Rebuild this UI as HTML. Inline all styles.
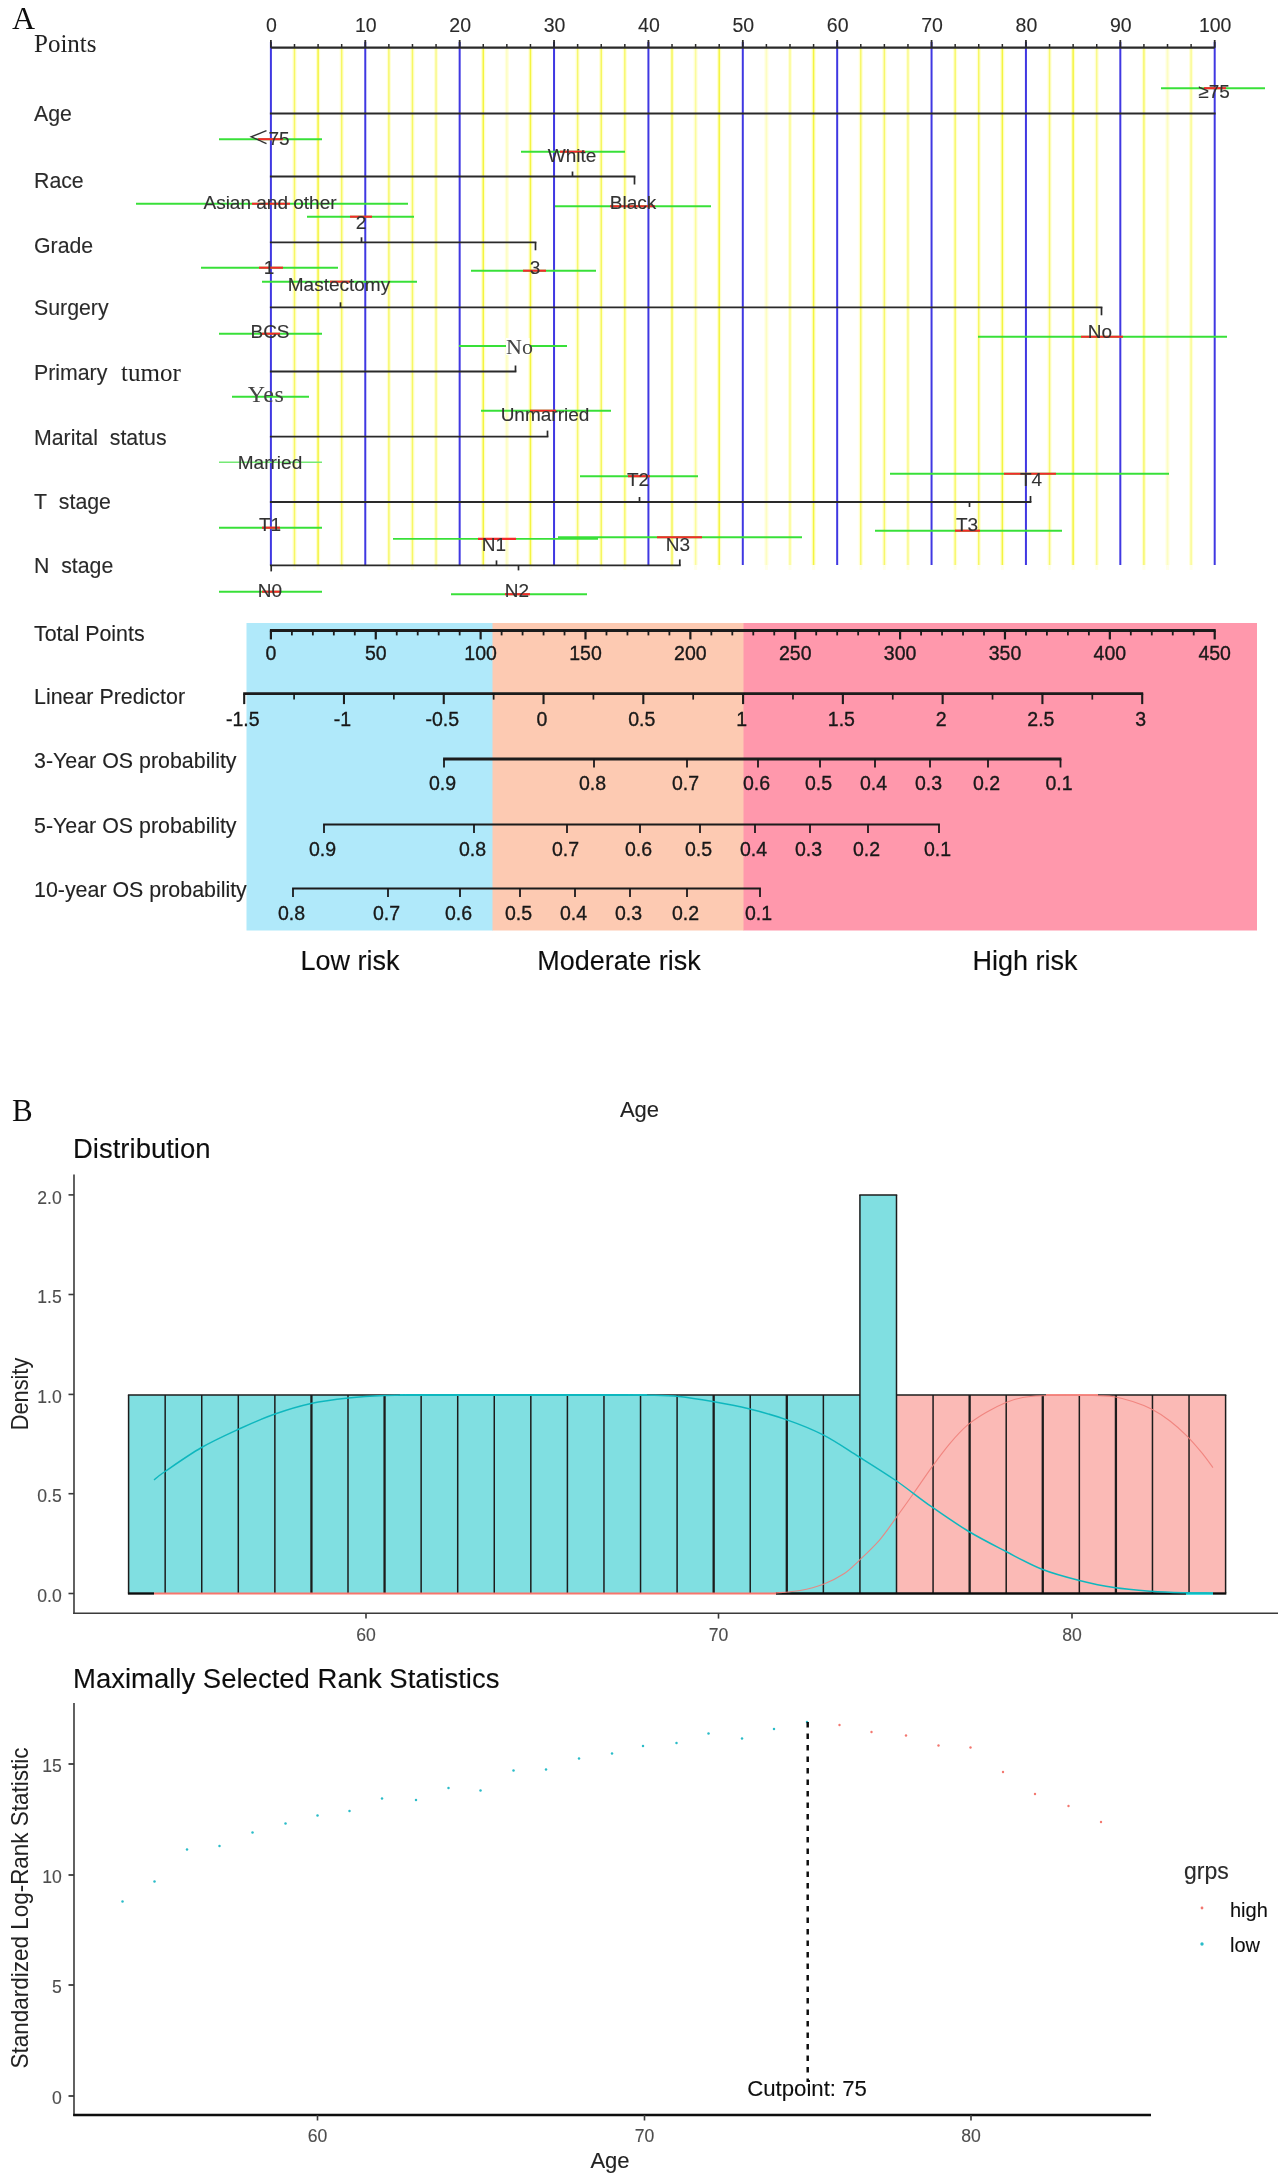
<!DOCTYPE html>
<html><head><meta charset="utf-8"><title>Figure</title>
<style>
html,body{margin:0;padding:0;background:#fff;}
body{width:1288px;height:2182px;overflow:hidden;font-family:"Liberation Sans",sans-serif;}
svg{display:block;}
</style></head><body>
<svg width="1288" height="2182" viewBox="0 0 1288 2182">
<defs><filter id="soft" x="0" y="0" width="100%" height="100%" filterUnits="userSpaceOnUse"><feGaussianBlur stdDeviation="0.45"/></filter></defs>
<rect x="0" y="0" width="1288" height="2182" fill="#ffffff"/>
<g filter="url(#soft)">
<line x1="294.495" y1="48" x2="294.495" y2="565" stroke="#ffffcc" stroke-width="4" stroke-opacity="0.89"/>
<line x1="294.495" y1="48" x2="294.495" y2="565" stroke="#f4f440" stroke-width="1.5" stroke-opacity="0.75"/>
<line x1="294.495" y1="565" x2="294.495" y2="570" stroke="#ffffdd" stroke-width="3" stroke-opacity="0.6"/>
<line x1="318.09" y1="48" x2="318.09" y2="565" stroke="#ffffcc" stroke-width="4" stroke-opacity="1.00"/>
<line x1="318.09" y1="48" x2="318.09" y2="565" stroke="#f4f440" stroke-width="1.5" stroke-opacity="1.00"/>
<line x1="318.09" y1="565" x2="318.09" y2="570" stroke="#ffffdd" stroke-width="3" stroke-opacity="0.6"/>
<line x1="341.685" y1="48" x2="341.685" y2="565" stroke="#ffffcc" stroke-width="4" stroke-opacity="0.89"/>
<line x1="341.685" y1="48" x2="341.685" y2="565" stroke="#f4f440" stroke-width="1.5" stroke-opacity="0.75"/>
<line x1="341.685" y1="565" x2="341.685" y2="570" stroke="#ffffdd" stroke-width="3" stroke-opacity="0.6"/>
<line x1="388.875" y1="48" x2="388.875" y2="565" stroke="#ffffcc" stroke-width="4" stroke-opacity="0.86"/>
<line x1="388.875" y1="48" x2="388.875" y2="565" stroke="#f4f440" stroke-width="1.5" stroke-opacity="0.70"/>
<line x1="388.875" y1="565" x2="388.875" y2="570" stroke="#ffffdd" stroke-width="3" stroke-opacity="0.6"/>
<line x1="412.47" y1="48" x2="412.47" y2="565" stroke="#ffffcc" stroke-width="4" stroke-opacity="0.89"/>
<line x1="412.47" y1="48" x2="412.47" y2="565" stroke="#f4f440" stroke-width="1.5" stroke-opacity="0.75"/>
<line x1="412.47" y1="565" x2="412.47" y2="570" stroke="#ffffdd" stroke-width="3" stroke-opacity="0.6"/>
<line x1="436.06499999999994" y1="48" x2="436.06499999999994" y2="565" stroke="#ffffcc" stroke-width="4" stroke-opacity="0.78"/>
<line x1="436.06499999999994" y1="48" x2="436.06499999999994" y2="565" stroke="#f4f440" stroke-width="1.5" stroke-opacity="0.50"/>
<line x1="436.06499999999994" y1="565" x2="436.06499999999994" y2="570" stroke="#ffffdd" stroke-width="3" stroke-opacity="0.6"/>
<line x1="483.255" y1="48" x2="483.255" y2="565" stroke="#ffffcc" stroke-width="4" stroke-opacity="1.00"/>
<line x1="483.255" y1="48" x2="483.255" y2="565" stroke="#f4f440" stroke-width="1.5" stroke-opacity="1.00"/>
<line x1="483.255" y1="565" x2="483.255" y2="570" stroke="#ffffdd" stroke-width="3" stroke-opacity="0.6"/>
<line x1="506.84999999999997" y1="48" x2="506.84999999999997" y2="565" stroke="#ffffcc" stroke-width="4" stroke-opacity="0.63"/>
<line x1="506.84999999999997" y1="48" x2="506.84999999999997" y2="565" stroke="#f4f440" stroke-width="1.5" stroke-opacity="0.18"/>
<line x1="506.84999999999997" y1="565" x2="506.84999999999997" y2="570" stroke="#ffffdd" stroke-width="3" stroke-opacity="0.6"/>
<line x1="530.4449999999999" y1="48" x2="530.4449999999999" y2="565" stroke="#ffffcc" stroke-width="4" stroke-opacity="1.00"/>
<line x1="530.4449999999999" y1="48" x2="530.4449999999999" y2="565" stroke="#f4f440" stroke-width="1.5" stroke-opacity="1.00"/>
<line x1="530.4449999999999" y1="565" x2="530.4449999999999" y2="570" stroke="#ffffdd" stroke-width="3" stroke-opacity="0.6"/>
<line x1="577.635" y1="48" x2="577.635" y2="565" stroke="#ffffcc" stroke-width="4" stroke-opacity="0.86"/>
<line x1="577.635" y1="48" x2="577.635" y2="565" stroke="#f4f440" stroke-width="1.5" stroke-opacity="0.70"/>
<line x1="577.635" y1="565" x2="577.635" y2="570" stroke="#ffffdd" stroke-width="3" stroke-opacity="0.6"/>
<line x1="601.23" y1="48" x2="601.23" y2="565" stroke="#ffffcc" stroke-width="4" stroke-opacity="0.91"/>
<line x1="601.23" y1="48" x2="601.23" y2="565" stroke="#f4f440" stroke-width="1.5" stroke-opacity="0.80"/>
<line x1="601.23" y1="565" x2="601.23" y2="570" stroke="#ffffdd" stroke-width="3" stroke-opacity="0.6"/>
<line x1="624.825" y1="48" x2="624.825" y2="565" stroke="#ffffcc" stroke-width="4" stroke-opacity="0.86"/>
<line x1="624.825" y1="48" x2="624.825" y2="565" stroke="#f4f440" stroke-width="1.5" stroke-opacity="0.70"/>
<line x1="624.825" y1="565" x2="624.825" y2="570" stroke="#ffffdd" stroke-width="3" stroke-opacity="0.6"/>
<line x1="672.015" y1="48" x2="672.015" y2="565" stroke="#ffffcc" stroke-width="4" stroke-opacity="0.91"/>
<line x1="672.015" y1="48" x2="672.015" y2="565" stroke="#f4f440" stroke-width="1.5" stroke-opacity="0.80"/>
<line x1="672.015" y1="565" x2="672.015" y2="570" stroke="#ffffdd" stroke-width="3" stroke-opacity="0.6"/>
<line x1="695.6099999999999" y1="48" x2="695.6099999999999" y2="565" stroke="#ffffcc" stroke-width="4" stroke-opacity="0.73"/>
<line x1="695.6099999999999" y1="48" x2="695.6099999999999" y2="565" stroke="#f4f440" stroke-width="1.5" stroke-opacity="0.40"/>
<line x1="695.6099999999999" y1="565" x2="695.6099999999999" y2="570" stroke="#ffffdd" stroke-width="3" stroke-opacity="0.6"/>
<line x1="719.2049999999999" y1="48" x2="719.2049999999999" y2="565" stroke="#ffffcc" stroke-width="4" stroke-opacity="1.00"/>
<line x1="719.2049999999999" y1="48" x2="719.2049999999999" y2="565" stroke="#f4f440" stroke-width="1.5" stroke-opacity="1.00"/>
<line x1="719.2049999999999" y1="565" x2="719.2049999999999" y2="570" stroke="#ffffdd" stroke-width="3" stroke-opacity="0.6"/>
<line x1="766.395" y1="48" x2="766.395" y2="565" stroke="#ffffcc" stroke-width="4" stroke-opacity="0.63"/>
<line x1="766.395" y1="48" x2="766.395" y2="565" stroke="#f4f440" stroke-width="1.5" stroke-opacity="0.18"/>
<line x1="766.395" y1="565" x2="766.395" y2="570" stroke="#ffffdd" stroke-width="3" stroke-opacity="0.6"/>
<line x1="789.99" y1="48" x2="789.99" y2="565" stroke="#ffffcc" stroke-width="4" stroke-opacity="0.75"/>
<line x1="789.99" y1="48" x2="789.99" y2="565" stroke="#f4f440" stroke-width="1.5" stroke-opacity="0.45"/>
<line x1="789.99" y1="565" x2="789.99" y2="570" stroke="#ffffdd" stroke-width="3" stroke-opacity="0.6"/>
<line x1="813.585" y1="48" x2="813.585" y2="565" stroke="#ffffcc" stroke-width="4" stroke-opacity="1.00"/>
<line x1="813.585" y1="48" x2="813.585" y2="565" stroke="#f4f440" stroke-width="1.5" stroke-opacity="1.00"/>
<line x1="813.585" y1="565" x2="813.585" y2="570" stroke="#ffffdd" stroke-width="3" stroke-opacity="0.6"/>
<line x1="860.7750000000001" y1="48" x2="860.7750000000001" y2="565" stroke="#ffffcc" stroke-width="4" stroke-opacity="0.86"/>
<line x1="860.7750000000001" y1="48" x2="860.7750000000001" y2="565" stroke="#f4f440" stroke-width="1.5" stroke-opacity="0.70"/>
<line x1="860.7750000000001" y1="565" x2="860.7750000000001" y2="570" stroke="#ffffdd" stroke-width="3" stroke-opacity="0.6"/>
<line x1="884.37" y1="48" x2="884.37" y2="565" stroke="#ffffcc" stroke-width="4" stroke-opacity="0.86"/>
<line x1="884.37" y1="48" x2="884.37" y2="565" stroke="#f4f440" stroke-width="1.5" stroke-opacity="0.70"/>
<line x1="884.37" y1="565" x2="884.37" y2="570" stroke="#ffffdd" stroke-width="3" stroke-opacity="0.6"/>
<line x1="907.965" y1="48" x2="907.965" y2="565" stroke="#ffffcc" stroke-width="4" stroke-opacity="0.78"/>
<line x1="907.965" y1="48" x2="907.965" y2="565" stroke="#f4f440" stroke-width="1.5" stroke-opacity="0.50"/>
<line x1="907.965" y1="565" x2="907.965" y2="570" stroke="#ffffdd" stroke-width="3" stroke-opacity="0.6"/>
<line x1="955.155" y1="48" x2="955.155" y2="565" stroke="#ffffcc" stroke-width="4" stroke-opacity="0.86"/>
<line x1="955.155" y1="48" x2="955.155" y2="565" stroke="#f4f440" stroke-width="1.5" stroke-opacity="0.70"/>
<line x1="955.155" y1="565" x2="955.155" y2="570" stroke="#ffffdd" stroke-width="3" stroke-opacity="0.6"/>
<line x1="978.75" y1="48" x2="978.75" y2="565" stroke="#ffffcc" stroke-width="4" stroke-opacity="0.89"/>
<line x1="978.75" y1="48" x2="978.75" y2="565" stroke="#f4f440" stroke-width="1.5" stroke-opacity="0.75"/>
<line x1="978.75" y1="565" x2="978.75" y2="570" stroke="#ffffdd" stroke-width="3" stroke-opacity="0.6"/>
<line x1="1002.345" y1="48" x2="1002.345" y2="565" stroke="#ffffcc" stroke-width="4" stroke-opacity="1.00"/>
<line x1="1002.345" y1="48" x2="1002.345" y2="565" stroke="#f4f440" stroke-width="1.5" stroke-opacity="1.00"/>
<line x1="1002.345" y1="565" x2="1002.345" y2="570" stroke="#ffffdd" stroke-width="3" stroke-opacity="0.6"/>
<line x1="1049.5349999999999" y1="48" x2="1049.5349999999999" y2="565" stroke="#ffffcc" stroke-width="4" stroke-opacity="0.86"/>
<line x1="1049.5349999999999" y1="48" x2="1049.5349999999999" y2="565" stroke="#f4f440" stroke-width="1.5" stroke-opacity="0.70"/>
<line x1="1049.5349999999999" y1="565" x2="1049.5349999999999" y2="570" stroke="#ffffdd" stroke-width="3" stroke-opacity="0.6"/>
<line x1="1073.13" y1="48" x2="1073.13" y2="565" stroke="#ffffcc" stroke-width="4" stroke-opacity="1.00"/>
<line x1="1073.13" y1="48" x2="1073.13" y2="565" stroke="#f4f440" stroke-width="1.5" stroke-opacity="1.00"/>
<line x1="1073.13" y1="565" x2="1073.13" y2="570" stroke="#ffffdd" stroke-width="3" stroke-opacity="0.6"/>
<line x1="1096.725" y1="48" x2="1096.725" y2="565" stroke="#ffffcc" stroke-width="4" stroke-opacity="0.78"/>
<line x1="1096.725" y1="48" x2="1096.725" y2="565" stroke="#f4f440" stroke-width="1.5" stroke-opacity="0.50"/>
<line x1="1096.725" y1="565" x2="1096.725" y2="570" stroke="#ffffdd" stroke-width="3" stroke-opacity="0.6"/>
<line x1="1143.915" y1="48" x2="1143.915" y2="565" stroke="#ffffcc" stroke-width="4" stroke-opacity="0.86"/>
<line x1="1143.915" y1="48" x2="1143.915" y2="565" stroke="#f4f440" stroke-width="1.5" stroke-opacity="0.70"/>
<line x1="1143.915" y1="565" x2="1143.915" y2="570" stroke="#ffffdd" stroke-width="3" stroke-opacity="0.6"/>
<line x1="1167.51" y1="48" x2="1167.51" y2="565" stroke="#ffffcc" stroke-width="4" stroke-opacity="0.63"/>
<line x1="1167.51" y1="48" x2="1167.51" y2="565" stroke="#f4f440" stroke-width="1.5" stroke-opacity="0.18"/>
<line x1="1167.51" y1="565" x2="1167.51" y2="570" stroke="#ffffdd" stroke-width="3" stroke-opacity="0.6"/>
<line x1="1191.105" y1="48" x2="1191.105" y2="565" stroke="#ffffcc" stroke-width="4" stroke-opacity="0.75"/>
<line x1="1191.105" y1="48" x2="1191.105" y2="565" stroke="#f4f440" stroke-width="1.5" stroke-opacity="0.45"/>
<line x1="1191.105" y1="565" x2="1191.105" y2="570" stroke="#ffffdd" stroke-width="3" stroke-opacity="0.6"/>
<line x1="270.9" y1="42" x2="270.9" y2="565" stroke="#3f38e2" stroke-width="2" />
<line x1="365.28" y1="42" x2="365.28" y2="565" stroke="#3f38e2" stroke-width="2" />
<line x1="459.65999999999997" y1="42" x2="459.65999999999997" y2="565" stroke="#3f38e2" stroke-width="2" />
<line x1="554.04" y1="42" x2="554.04" y2="565" stroke="#3f38e2" stroke-width="2" />
<line x1="648.42" y1="42" x2="648.42" y2="565" stroke="#3f38e2" stroke-width="2" />
<line x1="742.8" y1="42" x2="742.8" y2="565" stroke="#3f38e2" stroke-width="2" />
<line x1="837.1800000000001" y1="42" x2="837.1800000000001" y2="565" stroke="#3f38e2" stroke-width="2" />
<line x1="931.56" y1="42" x2="931.56" y2="565" stroke="#3f38e2" stroke-width="2" />
<line x1="1025.94" y1="42" x2="1025.94" y2="565" stroke="#3f38e2" stroke-width="2" />
<line x1="1120.32" y1="42" x2="1120.32" y2="565" stroke="#3f38e2" stroke-width="2" />
<line x1="1214.6999999999998" y1="42" x2="1214.6999999999998" y2="565" stroke="#3f38e2" stroke-width="2" />
<line x1="270.9" y1="47.7" x2="1214.7" y2="47.7" stroke="#2a2a2a" stroke-width="2.3" />
<line x1="270.9" y1="40" x2="270.9" y2="47.7" stroke="#2a2a2a" stroke-width="1.8" />
<line x1="294.495" y1="44" x2="294.495" y2="47.7" stroke="#2a2a2a" stroke-width="1.5" />
<line x1="318.09" y1="44" x2="318.09" y2="47.7" stroke="#2a2a2a" stroke-width="1.5" />
<line x1="341.685" y1="44" x2="341.685" y2="47.7" stroke="#2a2a2a" stroke-width="1.5" />
<line x1="365.28" y1="40" x2="365.28" y2="47.7" stroke="#2a2a2a" stroke-width="1.8" />
<line x1="388.875" y1="44" x2="388.875" y2="47.7" stroke="#2a2a2a" stroke-width="1.5" />
<line x1="412.47" y1="44" x2="412.47" y2="47.7" stroke="#2a2a2a" stroke-width="1.5" />
<line x1="436.06499999999994" y1="44" x2="436.06499999999994" y2="47.7" stroke="#2a2a2a" stroke-width="1.5" />
<line x1="459.65999999999997" y1="40" x2="459.65999999999997" y2="47.7" stroke="#2a2a2a" stroke-width="1.8" />
<line x1="483.255" y1="44" x2="483.255" y2="47.7" stroke="#2a2a2a" stroke-width="1.5" />
<line x1="506.84999999999997" y1="44" x2="506.84999999999997" y2="47.7" stroke="#2a2a2a" stroke-width="1.5" />
<line x1="530.4449999999999" y1="44" x2="530.4449999999999" y2="47.7" stroke="#2a2a2a" stroke-width="1.5" />
<line x1="554.04" y1="40" x2="554.04" y2="47.7" stroke="#2a2a2a" stroke-width="1.8" />
<line x1="577.635" y1="44" x2="577.635" y2="47.7" stroke="#2a2a2a" stroke-width="1.5" />
<line x1="601.23" y1="44" x2="601.23" y2="47.7" stroke="#2a2a2a" stroke-width="1.5" />
<line x1="624.825" y1="44" x2="624.825" y2="47.7" stroke="#2a2a2a" stroke-width="1.5" />
<line x1="648.42" y1="40" x2="648.42" y2="47.7" stroke="#2a2a2a" stroke-width="1.8" />
<line x1="672.015" y1="44" x2="672.015" y2="47.7" stroke="#2a2a2a" stroke-width="1.5" />
<line x1="695.6099999999999" y1="44" x2="695.6099999999999" y2="47.7" stroke="#2a2a2a" stroke-width="1.5" />
<line x1="719.2049999999999" y1="44" x2="719.2049999999999" y2="47.7" stroke="#2a2a2a" stroke-width="1.5" />
<line x1="742.8" y1="40" x2="742.8" y2="47.7" stroke="#2a2a2a" stroke-width="1.8" />
<line x1="766.395" y1="44" x2="766.395" y2="47.7" stroke="#2a2a2a" stroke-width="1.5" />
<line x1="789.99" y1="44" x2="789.99" y2="47.7" stroke="#2a2a2a" stroke-width="1.5" />
<line x1="813.585" y1="44" x2="813.585" y2="47.7" stroke="#2a2a2a" stroke-width="1.5" />
<line x1="837.1800000000001" y1="40" x2="837.1800000000001" y2="47.7" stroke="#2a2a2a" stroke-width="1.8" />
<line x1="860.7750000000001" y1="44" x2="860.7750000000001" y2="47.7" stroke="#2a2a2a" stroke-width="1.5" />
<line x1="884.37" y1="44" x2="884.37" y2="47.7" stroke="#2a2a2a" stroke-width="1.5" />
<line x1="907.965" y1="44" x2="907.965" y2="47.7" stroke="#2a2a2a" stroke-width="1.5" />
<line x1="931.56" y1="40" x2="931.56" y2="47.7" stroke="#2a2a2a" stroke-width="1.8" />
<line x1="955.155" y1="44" x2="955.155" y2="47.7" stroke="#2a2a2a" stroke-width="1.5" />
<line x1="978.75" y1="44" x2="978.75" y2="47.7" stroke="#2a2a2a" stroke-width="1.5" />
<line x1="1002.345" y1="44" x2="1002.345" y2="47.7" stroke="#2a2a2a" stroke-width="1.5" />
<line x1="1025.94" y1="40" x2="1025.94" y2="47.7" stroke="#2a2a2a" stroke-width="1.8" />
<line x1="1049.5349999999999" y1="44" x2="1049.5349999999999" y2="47.7" stroke="#2a2a2a" stroke-width="1.5" />
<line x1="1073.13" y1="44" x2="1073.13" y2="47.7" stroke="#2a2a2a" stroke-width="1.5" />
<line x1="1096.725" y1="44" x2="1096.725" y2="47.7" stroke="#2a2a2a" stroke-width="1.5" />
<line x1="1120.32" y1="40" x2="1120.32" y2="47.7" stroke="#2a2a2a" stroke-width="1.8" />
<line x1="1143.915" y1="44" x2="1143.915" y2="47.7" stroke="#2a2a2a" stroke-width="1.5" />
<line x1="1167.51" y1="44" x2="1167.51" y2="47.7" stroke="#2a2a2a" stroke-width="1.5" />
<line x1="1191.105" y1="44" x2="1191.105" y2="47.7" stroke="#2a2a2a" stroke-width="1.5" />
<line x1="1214.6999999999998" y1="40" x2="1214.6999999999998" y2="47.7" stroke="#2a2a2a" stroke-width="1.8" />
<text x="271.4" y="32" font-size="19.5" text-anchor="middle" font-family='"Liberation Sans", sans-serif' fill="#2b2b2b"  stroke="#2b2b2b" stroke-width="0.12">0</text>
<text x="365.78" y="32" font-size="19.5" text-anchor="middle" font-family='"Liberation Sans", sans-serif' fill="#2b2b2b"  stroke="#2b2b2b" stroke-width="0.12">10</text>
<text x="460.15999999999997" y="32" font-size="19.5" text-anchor="middle" font-family='"Liberation Sans", sans-serif' fill="#2b2b2b"  stroke="#2b2b2b" stroke-width="0.12">20</text>
<text x="554.54" y="32" font-size="19.5" text-anchor="middle" font-family='"Liberation Sans", sans-serif' fill="#2b2b2b"  stroke="#2b2b2b" stroke-width="0.12">30</text>
<text x="648.92" y="32" font-size="19.5" text-anchor="middle" font-family='"Liberation Sans", sans-serif' fill="#2b2b2b"  stroke="#2b2b2b" stroke-width="0.12">40</text>
<text x="743.3" y="32" font-size="19.5" text-anchor="middle" font-family='"Liberation Sans", sans-serif' fill="#2b2b2b"  stroke="#2b2b2b" stroke-width="0.12">50</text>
<text x="837.6800000000001" y="32" font-size="19.5" text-anchor="middle" font-family='"Liberation Sans", sans-serif' fill="#2b2b2b"  stroke="#2b2b2b" stroke-width="0.12">60</text>
<text x="932.06" y="32" font-size="19.5" text-anchor="middle" font-family='"Liberation Sans", sans-serif' fill="#2b2b2b"  stroke="#2b2b2b" stroke-width="0.12">70</text>
<text x="1026.44" y="32" font-size="19.5" text-anchor="middle" font-family='"Liberation Sans", sans-serif' fill="#2b2b2b"  stroke="#2b2b2b" stroke-width="0.12">80</text>
<text x="1120.82" y="32" font-size="19.5" text-anchor="middle" font-family='"Liberation Sans", sans-serif' fill="#2b2b2b"  stroke="#2b2b2b" stroke-width="0.12">90</text>
<text x="1215.1999999999998" y="32" font-size="19.5" text-anchor="middle" font-family='"Liberation Sans", sans-serif' fill="#2b2b2b"  stroke="#2b2b2b" stroke-width="0.12">100</text>
<text x="34" y="52" font-size="25" text-anchor="start" font-family='"Liberation Serif", serif' fill="#222" >Points</text>
<text x="34" y="121" font-size="21.3" text-anchor="start" font-family='"Liberation Sans", sans-serif' fill="#2b2b2b"  stroke="#2b2b2b" stroke-width="0.12">Age</text>
<text x="34" y="188" font-size="21.3" text-anchor="start" font-family='"Liberation Sans", sans-serif' fill="#2b2b2b"  stroke="#2b2b2b" stroke-width="0.12">Race</text>
<text x="34" y="253" font-size="21.3" text-anchor="start" font-family='"Liberation Sans", sans-serif' fill="#2b2b2b"  stroke="#2b2b2b" stroke-width="0.12">Grade</text>
<text x="34" y="315.2" font-size="21.3" text-anchor="start" font-family='"Liberation Sans", sans-serif' fill="#2b2b2b"  stroke="#2b2b2b" stroke-width="0.12">Surgery</text>
<text x="34" y="445" font-size="21.3" text-anchor="start" font-family='"Liberation Sans", sans-serif' fill="#2b2b2b"  stroke="#2b2b2b" stroke-width="0.12">Marital&#160; status</text>
<text x="34" y="509.3" font-size="21.3" text-anchor="start" font-family='"Liberation Sans", sans-serif' fill="#2b2b2b"  stroke="#2b2b2b" stroke-width="0.12">T&#160; stage</text>
<text x="34" y="573" font-size="21.3" text-anchor="start" font-family='"Liberation Sans", sans-serif' fill="#2b2b2b"  stroke="#2b2b2b" stroke-width="0.12">N&#160; stage</text>
<text x="34" y="379.8" font-size="21.3" text-anchor="start" font-family='"Liberation Sans", sans-serif' fill="#2b2b2b"  stroke="#2b2b2b" stroke-width="0.12">Primary</text>
<text x="121" y="381.3" font-size="25" text-anchor="start" font-family='"Liberation Serif", serif' fill="#222" >tumor</text>
<line x1="269.9" y1="113.5" x2="1215.6000000000001" y2="113.5" stroke="#2a2a2a" stroke-width="1.8" />
<line x1="219" y1="139.2" x2="322" y2="139.2" stroke="#38e038" stroke-width="1.9" />
<line x1="258" y1="139.2" x2="283" y2="139.2" stroke="#f52a2a" stroke-width="2.1" />
<path d="M266.5,130.6 L251.2,136.8 L266.5,143.6" fill="none" stroke="#333" stroke-width="1.4"/>
<text x="268.5" y="145" font-size="19" text-anchor="start" font-family='"Liberation Sans", sans-serif' fill="#333"  stroke="#333" stroke-width="0.12">75</text>
<line x1="1161" y1="88.2" x2="1265" y2="88.2" stroke="#38e038" stroke-width="1.9" />
<line x1="1204" y1="88.2" x2="1226" y2="88.2" stroke="#f52a2a" stroke-width="2.1" />
<text x="1214" y="98" font-size="19" text-anchor="middle" font-family='"Liberation Sans", sans-serif' fill="#333"  stroke="#333" stroke-width="0.12">&#8805;75</text>
<line x1="269.9" y1="176.5" x2="635.4" y2="176.5" stroke="#2a2a2a" stroke-width="1.8" />
<line x1="634.5" y1="176.5" x2="634.5" y2="184.5" stroke="#2a2a2a" stroke-width="1.7" />
<line x1="572.5" y1="171.5" x2="572.5" y2="176.5" stroke="#2a2a2a" stroke-width="1.7" />
<line x1="521" y1="151.7" x2="625" y2="151.7" stroke="#38e038" stroke-width="1.9" />
<line x1="560" y1="151.7" x2="585" y2="151.7" stroke="#f52a2a" stroke-width="2.1" />
<text x="572" y="162" font-size="19" text-anchor="middle" font-family='"Liberation Sans", sans-serif' fill="#333"  stroke="#333" stroke-width="0.12">White</text>
<line x1="136" y1="203.7" x2="408" y2="203.7" stroke="#38e038" stroke-width="1.9" />
<line x1="252" y1="203.7" x2="290" y2="203.7" stroke="#f52a2a" stroke-width="2.1" />
<text x="270" y="209" font-size="19" text-anchor="middle" font-family='"Liberation Sans", sans-serif' fill="#333"  stroke="#333" stroke-width="0.12">Asian and other</text>
<line x1="555" y1="206.2" x2="711" y2="206.2" stroke="#38e038" stroke-width="1.9" />
<line x1="610" y1="206.2" x2="655" y2="206.2" stroke="#f52a2a" stroke-width="2.1" />
<text x="633" y="209" font-size="19" text-anchor="middle" font-family='"Liberation Sans", sans-serif' fill="#333"  stroke="#333" stroke-width="0.12">Black</text>
<line x1="269.9" y1="242.3" x2="536.4" y2="242.3" stroke="#2a2a2a" stroke-width="1.8" />
<line x1="535.5" y1="242.3" x2="535.5" y2="250.3" stroke="#2a2a2a" stroke-width="1.7" />
<line x1="361.5" y1="237.3" x2="361.5" y2="242.3" stroke="#2a2a2a" stroke-width="1.7" />
<line x1="307" y1="216.7" x2="414" y2="216.7" stroke="#38e038" stroke-width="1.9" />
<line x1="350" y1="216.7" x2="372" y2="216.7" stroke="#f52a2a" stroke-width="2.1" />
<text x="361" y="229" font-size="19" text-anchor="middle" font-family='"Liberation Sans", sans-serif' fill="#333"  stroke="#333" stroke-width="0.12">2</text>
<line x1="201" y1="267.7" x2="338" y2="267.7" stroke="#38e038" stroke-width="1.9" />
<line x1="259" y1="267.7" x2="283" y2="267.7" stroke="#f52a2a" stroke-width="2.1" />
<text x="269" y="274" font-size="19" text-anchor="middle" font-family='"Liberation Sans", sans-serif' fill="#333"  stroke="#333" stroke-width="0.12">1</text>
<line x1="471" y1="270.7" x2="596" y2="270.7" stroke="#38e038" stroke-width="1.9" />
<line x1="523" y1="270.7" x2="546" y2="270.7" stroke="#f52a2a" stroke-width="2.1" />
<text x="535" y="274" font-size="19" text-anchor="middle" font-family='"Liberation Sans", sans-serif' fill="#333"  stroke="#333" stroke-width="0.12">3</text>
<line x1="269.9" y1="307.3" x2="1102.4" y2="307.3" stroke="#2a2a2a" stroke-width="1.8" />
<line x1="1101.5" y1="307.3" x2="1101.5" y2="315.3" stroke="#2a2a2a" stroke-width="1.7" />
<line x1="340.5" y1="302.3" x2="340.5" y2="307.3" stroke="#2a2a2a" stroke-width="1.7" />
<line x1="262" y1="281.7" x2="417" y2="281.7" stroke="#38e038" stroke-width="1.9" />
<line x1="330" y1="281.7" x2="350" y2="281.7" stroke="#f52a2a" stroke-width="2.1" />
<text x="339" y="291" font-size="19" text-anchor="middle" font-family='"Liberation Sans", sans-serif' fill="#333"  stroke="#333" stroke-width="0.12">Mastectomy</text>
<line x1="219" y1="333.7" x2="322" y2="333.7" stroke="#38e038" stroke-width="1.9" />
<line x1="262" y1="333.7" x2="280" y2="333.7" stroke="#f52a2a" stroke-width="2.1" />
<text x="270" y="338" font-size="19" text-anchor="middle" font-family='"Liberation Sans", sans-serif' fill="#333"  stroke="#333" stroke-width="0.12">BCS</text>
<line x1="978" y1="336.7" x2="1227" y2="336.7" stroke="#38e038" stroke-width="1.9" />
<line x1="1081" y1="336.7" x2="1123" y2="336.7" stroke="#f52a2a" stroke-width="2.1" />
<text x="1100" y="338" font-size="19" text-anchor="middle" font-family='"Liberation Sans", sans-serif' fill="#333"  stroke="#333" stroke-width="0.12">No</text>
<line x1="269.9" y1="371.5" x2="516.4" y2="371.5" stroke="#2a2a2a" stroke-width="1.8" />
<line x1="515.5" y1="365.5" x2="515.5" y2="371.5" stroke="#2a2a2a" stroke-width="1.7" />
<line x1="459" y1="346.0" x2="567" y2="346.0" stroke="#38e038" stroke-width="1.9" />
<rect x="506" y="338" width="23.5" height="17" fill="#fff"/>
<text x="519.5" y="354" font-size="22" text-anchor="middle" font-family='"Liberation Serif", serif' fill="#444" >No</text>
<line x1="232" y1="396.7" x2="309" y2="396.7" stroke="#38e038" stroke-width="1.9" />
<text x="266" y="401.5" font-size="24" text-anchor="middle" font-family='"Liberation Serif", serif' fill="#444" letter-spacing="0.6">Yes</text>
<line x1="269.9" y1="436.6" x2="548.4" y2="436.6" stroke="#2a2a2a" stroke-width="1.8" />
<line x1="547.5" y1="430.6" x2="547.5" y2="436.6" stroke="#2a2a2a" stroke-width="1.7" />
<line x1="481" y1="410.7" x2="611" y2="410.7" stroke="#38e038" stroke-width="1.9" />
<line x1="530" y1="410.7" x2="556" y2="410.7" stroke="#f52a2a" stroke-width="2.1" />
<text x="545" y="421" font-size="19" text-anchor="middle" font-family='"Liberation Sans", sans-serif' fill="#333"  stroke="#333" stroke-width="0.12">Unmarried</text>
<line x1="219" y1="462.2" x2="322" y2="462.2" stroke="#74e974" stroke-width="1.4" />
<text x="270" y="469" font-size="19" text-anchor="middle" font-family='"Liberation Sans", sans-serif' fill="#333"  stroke="#333" stroke-width="0.12">Married</text>
<line x1="269.9" y1="502" x2="1031.4" y2="502" stroke="#2a2a2a" stroke-width="1.8" />
<line x1="1030.5" y1="496" x2="1030.5" y2="502" stroke="#2a2a2a" stroke-width="1.7" />
<line x1="639.5" y1="497" x2="639.5" y2="502" stroke="#2a2a2a" stroke-width="1.7" />
<line x1="969.5" y1="502" x2="969.5" y2="507" stroke="#2a2a2a" stroke-width="1.7" />
<line x1="580" y1="476.2" x2="698" y2="476.2" stroke="#38e038" stroke-width="1.9" />
<line x1="628" y1="476.2" x2="650" y2="476.2" stroke="#f52a2a" stroke-width="2.1" />
<text x="638" y="486" font-size="19" text-anchor="middle" font-family='"Liberation Sans", sans-serif' fill="#333"  stroke="#333" stroke-width="0.12">T2</text>
<line x1="890" y1="473.7" x2="1169" y2="473.7" stroke="#38e038" stroke-width="1.9" />
<line x1="1004" y1="473.7" x2="1056" y2="473.7" stroke="#f52a2a" stroke-width="2.1" />
<text x="1031" y="486" font-size="19" text-anchor="middle" font-family='"Liberation Sans", sans-serif' fill="#333"  stroke="#333" stroke-width="0.12">T4</text>
<line x1="219" y1="527.7" x2="322" y2="527.7" stroke="#38e038" stroke-width="1.9" />
<line x1="262" y1="527.7" x2="280" y2="527.7" stroke="#f52a2a" stroke-width="2.1" />
<text x="270" y="531" font-size="19" text-anchor="middle" font-family='"Liberation Sans", sans-serif' fill="#333"  stroke="#333" stroke-width="0.12">T1</text>
<line x1="875" y1="530.7" x2="1062" y2="530.7" stroke="#38e038" stroke-width="1.9" />
<line x1="955" y1="530.7" x2="980" y2="530.7" stroke="#f52a2a" stroke-width="2.1" />
<text x="967" y="531" font-size="19" text-anchor="middle" font-family='"Liberation Sans", sans-serif' fill="#333"  stroke="#333" stroke-width="0.12">T3</text>
<line x1="269.9" y1="565.4" x2="680.6999999999999" y2="565.4" stroke="#2a2a2a" stroke-width="1.8" />
<line x1="679.8" y1="559.4" x2="679.8" y2="565.4" stroke="#2a2a2a" stroke-width="1.7" />
<line x1="496.5" y1="560.4" x2="496.5" y2="565.4" stroke="#2a2a2a" stroke-width="1.7" />
<line x1="518.5" y1="565.4" x2="518.5" y2="570.4" stroke="#2a2a2a" stroke-width="1.7" />
<line x1="271.2" y1="565.4" x2="271.2" y2="571.4" stroke="#2a2a2a" stroke-width="1.7" />
<line x1="393" y1="538.9000000000001" x2="598" y2="538.9000000000001" stroke="#38e038" stroke-width="1.9" />
<line x1="478" y1="538.9000000000001" x2="516" y2="538.9000000000001" stroke="#f52a2a" stroke-width="2.1" />
<text x="494" y="551" font-size="19" text-anchor="middle" font-family='"Liberation Sans", sans-serif' fill="#333"  stroke="#333" stroke-width="0.12">N1</text>
<line x1="558" y1="537.2" x2="802" y2="537.2" stroke="#38e038" stroke-width="1.9" />
<line x1="657" y1="537.2" x2="702" y2="537.2" stroke="#f52a2a" stroke-width="2.1" />
<text x="678" y="551" font-size="19" text-anchor="middle" font-family='"Liberation Sans", sans-serif' fill="#333"  stroke="#333" stroke-width="0.12">N3</text>
<line x1="219" y1="591.7" x2="322" y2="591.7" stroke="#38e038" stroke-width="1.9" />
<line x1="262" y1="591.7" x2="280" y2="591.7" stroke="#f52a2a" stroke-width="2.1" />
<text x="270" y="597" font-size="19" text-anchor="middle" font-family='"Liberation Sans", sans-serif' fill="#333"  stroke="#333" stroke-width="0.12">N0</text>
<line x1="451" y1="594.2" x2="587" y2="594.2" stroke="#38e038" stroke-width="1.9" />
<line x1="505" y1="594.2" x2="530" y2="594.2" stroke="#f52a2a" stroke-width="2.1" />
<text x="517" y="597" font-size="19" text-anchor="middle" font-family='"Liberation Sans", sans-serif' fill="#333"  stroke="#333" stroke-width="0.12">N2</text>
<rect x="246.5" y="623" width="246.5" height="307.5" fill="#b0e9fa"/>
<rect x="492.5" y="623" width="251.5" height="307.5" fill="#fdcab2"/>
<rect x="743.5" y="623" width="513.5" height="307.5" fill="#ff98ac"/>
<line x1="269.9" y1="630.4" x2="1215.7" y2="630.4" stroke="#1a1a1a" stroke-width="3" />
<line x1="270.9" y1="630.4" x2="270.9" y2="639.4" stroke="#1a1a1a" stroke-width="2.2" />
<line x1="291.87333333333333" y1="630.4" x2="291.87333333333333" y2="635.4" stroke="#1a1a1a" stroke-width="1.8" />
<line x1="312.84666666666664" y1="630.4" x2="312.84666666666664" y2="635.4" stroke="#1a1a1a" stroke-width="1.8" />
<line x1="333.82" y1="630.4" x2="333.82" y2="635.4" stroke="#1a1a1a" stroke-width="1.8" />
<line x1="354.7933333333333" y1="630.4" x2="354.7933333333333" y2="635.4" stroke="#1a1a1a" stroke-width="1.8" />
<line x1="375.76666666666665" y1="630.4" x2="375.76666666666665" y2="639.4" stroke="#1a1a1a" stroke-width="2.2" />
<line x1="396.74" y1="630.4" x2="396.74" y2="635.4" stroke="#1a1a1a" stroke-width="1.8" />
<line x1="417.7133333333333" y1="630.4" x2="417.7133333333333" y2="635.4" stroke="#1a1a1a" stroke-width="1.8" />
<line x1="438.68666666666667" y1="630.4" x2="438.68666666666667" y2="635.4" stroke="#1a1a1a" stroke-width="1.8" />
<line x1="459.65999999999997" y1="630.4" x2="459.65999999999997" y2="635.4" stroke="#1a1a1a" stroke-width="1.8" />
<line x1="480.6333333333333" y1="630.4" x2="480.6333333333333" y2="639.4" stroke="#1a1a1a" stroke-width="2.2" />
<line x1="501.6066666666667" y1="630.4" x2="501.6066666666667" y2="635.4" stroke="#1a1a1a" stroke-width="1.8" />
<line x1="522.5799999999999" y1="630.4" x2="522.5799999999999" y2="635.4" stroke="#1a1a1a" stroke-width="1.8" />
<line x1="543.5533333333333" y1="630.4" x2="543.5533333333333" y2="635.4" stroke="#1a1a1a" stroke-width="1.8" />
<line x1="564.5266666666666" y1="630.4" x2="564.5266666666666" y2="635.4" stroke="#1a1a1a" stroke-width="1.8" />
<line x1="585.5" y1="630.4" x2="585.5" y2="639.4" stroke="#1a1a1a" stroke-width="2.2" />
<line x1="606.4733333333334" y1="630.4" x2="606.4733333333334" y2="635.4" stroke="#1a1a1a" stroke-width="1.8" />
<line x1="627.4466666666667" y1="630.4" x2="627.4466666666667" y2="635.4" stroke="#1a1a1a" stroke-width="1.8" />
<line x1="648.4200000000001" y1="630.4" x2="648.4200000000001" y2="635.4" stroke="#1a1a1a" stroke-width="1.8" />
<line x1="669.3933333333333" y1="630.4" x2="669.3933333333333" y2="635.4" stroke="#1a1a1a" stroke-width="1.8" />
<line x1="690.3666666666666" y1="630.4" x2="690.3666666666666" y2="639.4" stroke="#1a1a1a" stroke-width="2.2" />
<line x1="711.34" y1="630.4" x2="711.34" y2="635.4" stroke="#1a1a1a" stroke-width="1.8" />
<line x1="732.3133333333333" y1="630.4" x2="732.3133333333333" y2="635.4" stroke="#1a1a1a" stroke-width="1.8" />
<line x1="753.2866666666666" y1="630.4" x2="753.2866666666666" y2="635.4" stroke="#1a1a1a" stroke-width="1.8" />
<line x1="774.26" y1="630.4" x2="774.26" y2="635.4" stroke="#1a1a1a" stroke-width="1.8" />
<line x1="795.2333333333333" y1="630.4" x2="795.2333333333333" y2="639.4" stroke="#1a1a1a" stroke-width="2.2" />
<line x1="816.2066666666667" y1="630.4" x2="816.2066666666667" y2="635.4" stroke="#1a1a1a" stroke-width="1.8" />
<line x1="837.1800000000001" y1="630.4" x2="837.1800000000001" y2="635.4" stroke="#1a1a1a" stroke-width="1.8" />
<line x1="858.1533333333333" y1="630.4" x2="858.1533333333333" y2="635.4" stroke="#1a1a1a" stroke-width="1.8" />
<line x1="879.1266666666667" y1="630.4" x2="879.1266666666667" y2="635.4" stroke="#1a1a1a" stroke-width="1.8" />
<line x1="900.1" y1="630.4" x2="900.1" y2="639.4" stroke="#1a1a1a" stroke-width="2.2" />
<line x1="921.0733333333334" y1="630.4" x2="921.0733333333334" y2="635.4" stroke="#1a1a1a" stroke-width="1.8" />
<line x1="942.0466666666667" y1="630.4" x2="942.0466666666667" y2="635.4" stroke="#1a1a1a" stroke-width="1.8" />
<line x1="963.02" y1="630.4" x2="963.02" y2="635.4" stroke="#1a1a1a" stroke-width="1.8" />
<line x1="983.9933333333333" y1="630.4" x2="983.9933333333333" y2="635.4" stroke="#1a1a1a" stroke-width="1.8" />
<line x1="1004.9666666666667" y1="630.4" x2="1004.9666666666667" y2="639.4" stroke="#1a1a1a" stroke-width="2.2" />
<line x1="1025.94" y1="630.4" x2="1025.94" y2="635.4" stroke="#1a1a1a" stroke-width="1.8" />
<line x1="1046.9133333333334" y1="630.4" x2="1046.9133333333334" y2="635.4" stroke="#1a1a1a" stroke-width="1.8" />
<line x1="1067.8866666666668" y1="630.4" x2="1067.8866666666668" y2="635.4" stroke="#1a1a1a" stroke-width="1.8" />
<line x1="1088.8600000000001" y1="630.4" x2="1088.8600000000001" y2="635.4" stroke="#1a1a1a" stroke-width="1.8" />
<line x1="1109.8333333333333" y1="630.4" x2="1109.8333333333333" y2="639.4" stroke="#1a1a1a" stroke-width="2.2" />
<line x1="1130.8066666666668" y1="630.4" x2="1130.8066666666668" y2="635.4" stroke="#1a1a1a" stroke-width="1.8" />
<line x1="1151.7800000000002" y1="630.4" x2="1151.7800000000002" y2="635.4" stroke="#1a1a1a" stroke-width="1.8" />
<line x1="1172.7533333333333" y1="630.4" x2="1172.7533333333333" y2="635.4" stroke="#1a1a1a" stroke-width="1.8" />
<line x1="1193.7266666666667" y1="630.4" x2="1193.7266666666667" y2="635.4" stroke="#1a1a1a" stroke-width="1.8" />
<line x1="1214.6999999999998" y1="630.4" x2="1214.6999999999998" y2="639.4" stroke="#1a1a1a" stroke-width="2.2" />
<text x="270.9" y="659.8" font-size="19.5" text-anchor="middle" font-family='"Liberation Sans", sans-serif' fill="#1a1a1a" stroke="#1a1a1a" stroke-width="0.35">0</text>
<text x="375.76666666666665" y="659.8" font-size="19.5" text-anchor="middle" font-family='"Liberation Sans", sans-serif' fill="#1a1a1a" stroke="#1a1a1a" stroke-width="0.35">50</text>
<text x="480.6333333333333" y="659.8" font-size="19.5" text-anchor="middle" font-family='"Liberation Sans", sans-serif' fill="#1a1a1a" stroke="#1a1a1a" stroke-width="0.35">100</text>
<text x="585.5" y="659.8" font-size="19.5" text-anchor="middle" font-family='"Liberation Sans", sans-serif' fill="#1a1a1a" stroke="#1a1a1a" stroke-width="0.35">150</text>
<text x="690.3666666666667" y="659.8" font-size="19.5" text-anchor="middle" font-family='"Liberation Sans", sans-serif' fill="#1a1a1a" stroke="#1a1a1a" stroke-width="0.35">200</text>
<text x="795.2333333333333" y="659.8" font-size="19.5" text-anchor="middle" font-family='"Liberation Sans", sans-serif' fill="#1a1a1a" stroke="#1a1a1a" stroke-width="0.35">250</text>
<text x="900.1" y="659.8" font-size="19.5" text-anchor="middle" font-family='"Liberation Sans", sans-serif' fill="#1a1a1a" stroke="#1a1a1a" stroke-width="0.35">300</text>
<text x="1004.9666666666667" y="659.8" font-size="19.5" text-anchor="middle" font-family='"Liberation Sans", sans-serif' fill="#1a1a1a" stroke="#1a1a1a" stroke-width="0.35">350</text>
<text x="1109.8333333333335" y="659.8" font-size="19.5" text-anchor="middle" font-family='"Liberation Sans", sans-serif' fill="#1a1a1a" stroke="#1a1a1a" stroke-width="0.35">400</text>
<text x="1214.7" y="659.8" font-size="19.5" text-anchor="middle" font-family='"Liberation Sans", sans-serif' fill="#1a1a1a" stroke="#1a1a1a" stroke-width="0.35">450</text>
<line x1="243.2" y1="693.6" x2="1143.2" y2="693.6" stroke="#1a1a1a" stroke-width="2.8" />
<line x1="244.2" y1="693.6" x2="244.2" y2="704.1" stroke="#1a1a1a" stroke-width="2.1" />
<line x1="294.08888888888885" y1="693.6" x2="294.08888888888885" y2="699.6" stroke="#1a1a1a" stroke-width="1.7" />
<line x1="343.97777777777776" y1="693.6" x2="343.97777777777776" y2="704.1" stroke="#1a1a1a" stroke-width="2.1" />
<line x1="393.8666666666667" y1="693.6" x2="393.8666666666667" y2="699.6" stroke="#1a1a1a" stroke-width="1.7" />
<line x1="443.75555555555553" y1="693.6" x2="443.75555555555553" y2="704.1" stroke="#1a1a1a" stroke-width="2.1" />
<line x1="493.64444444444445" y1="693.6" x2="493.64444444444445" y2="699.6" stroke="#1a1a1a" stroke-width="1.7" />
<line x1="543.5333333333333" y1="693.6" x2="543.5333333333333" y2="704.1" stroke="#1a1a1a" stroke-width="2.1" />
<line x1="593.4222222222222" y1="693.6" x2="593.4222222222222" y2="699.6" stroke="#1a1a1a" stroke-width="1.7" />
<line x1="643.3111111111111" y1="693.6" x2="643.3111111111111" y2="704.1" stroke="#1a1a1a" stroke-width="2.1" />
<line x1="693.2" y1="693.6" x2="693.2" y2="699.6" stroke="#1a1a1a" stroke-width="1.7" />
<line x1="743.088888888889" y1="693.6" x2="743.088888888889" y2="704.1" stroke="#1a1a1a" stroke-width="2.1" />
<line x1="792.9777777777779" y1="693.6" x2="792.9777777777779" y2="699.6" stroke="#1a1a1a" stroke-width="1.7" />
<line x1="842.8666666666666" y1="693.6" x2="842.8666666666666" y2="704.1" stroke="#1a1a1a" stroke-width="2.1" />
<line x1="892.7555555555555" y1="693.6" x2="892.7555555555555" y2="699.6" stroke="#1a1a1a" stroke-width="1.7" />
<line x1="942.6444444444444" y1="693.6" x2="942.6444444444444" y2="704.1" stroke="#1a1a1a" stroke-width="2.1" />
<line x1="992.5333333333333" y1="693.6" x2="992.5333333333333" y2="699.6" stroke="#1a1a1a" stroke-width="1.7" />
<line x1="1042.4222222222222" y1="693.6" x2="1042.4222222222222" y2="704.1" stroke="#1a1a1a" stroke-width="2.1" />
<line x1="1092.3111111111111" y1="693.6" x2="1092.3111111111111" y2="699.6" stroke="#1a1a1a" stroke-width="1.7" />
<line x1="1142.2" y1="693.6" x2="1142.2" y2="704.1" stroke="#1a1a1a" stroke-width="2.1" />
<text x="242.7" y="726.3" font-size="19.5" text-anchor="middle" font-family='"Liberation Sans", sans-serif' fill="#1a1a1a" stroke="#1a1a1a" stroke-width="0.35">-1.5</text>
<text x="342.47777777777776" y="726.3" font-size="19.5" text-anchor="middle" font-family='"Liberation Sans", sans-serif' fill="#1a1a1a" stroke="#1a1a1a" stroke-width="0.35">-1</text>
<text x="442.25555555555553" y="726.3" font-size="19.5" text-anchor="middle" font-family='"Liberation Sans", sans-serif' fill="#1a1a1a" stroke="#1a1a1a" stroke-width="0.35">-0.5</text>
<text x="542.0333333333333" y="726.3" font-size="19.5" text-anchor="middle" font-family='"Liberation Sans", sans-serif' fill="#1a1a1a" stroke="#1a1a1a" stroke-width="0.35">0</text>
<text x="641.8111111111111" y="726.3" font-size="19.5" text-anchor="middle" font-family='"Liberation Sans", sans-serif' fill="#1a1a1a" stroke="#1a1a1a" stroke-width="0.35">0.5</text>
<text x="741.588888888889" y="726.3" font-size="19.5" text-anchor="middle" font-family='"Liberation Sans", sans-serif' fill="#1a1a1a" stroke="#1a1a1a" stroke-width="0.35">1</text>
<text x="841.3666666666666" y="726.3" font-size="19.5" text-anchor="middle" font-family='"Liberation Sans", sans-serif' fill="#1a1a1a" stroke="#1a1a1a" stroke-width="0.35">1.5</text>
<text x="941.1444444444444" y="726.3" font-size="19.5" text-anchor="middle" font-family='"Liberation Sans", sans-serif' fill="#1a1a1a" stroke="#1a1a1a" stroke-width="0.35">2</text>
<text x="1040.9222222222222" y="726.3" font-size="19.5" text-anchor="middle" font-family='"Liberation Sans", sans-serif' fill="#1a1a1a" stroke="#1a1a1a" stroke-width="0.35">2.5</text>
<text x="1140.7" y="726.3" font-size="19.5" text-anchor="middle" font-family='"Liberation Sans", sans-serif' fill="#1a1a1a" stroke="#1a1a1a" stroke-width="0.35">3</text>
<line x1="443.1" y1="759" x2="1061.4" y2="759" stroke="#1a1a1a" stroke-width="2.8" />
<line x1="444" y1="759" x2="444" y2="767.5" stroke="#1a1a1a" stroke-width="1.8" />
<text x="442.5" y="789.6" font-size="19.5" text-anchor="middle" font-family='"Liberation Sans", sans-serif' fill="#1a1a1a" stroke="#1a1a1a" stroke-width="0.35">0.9</text>
<line x1="594" y1="759" x2="594" y2="767.5" stroke="#1a1a1a" stroke-width="1.8" />
<text x="592.5" y="789.6" font-size="19.5" text-anchor="middle" font-family='"Liberation Sans", sans-serif' fill="#1a1a1a" stroke="#1a1a1a" stroke-width="0.35">0.8</text>
<line x1="687" y1="759" x2="687" y2="767.5" stroke="#1a1a1a" stroke-width="1.8" />
<text x="685.5" y="789.6" font-size="19.5" text-anchor="middle" font-family='"Liberation Sans", sans-serif' fill="#1a1a1a" stroke="#1a1a1a" stroke-width="0.35">0.7</text>
<line x1="758" y1="759" x2="758" y2="767.5" stroke="#1a1a1a" stroke-width="1.8" />
<text x="756.5" y="789.6" font-size="19.5" text-anchor="middle" font-family='"Liberation Sans", sans-serif' fill="#1a1a1a" stroke="#1a1a1a" stroke-width="0.35">0.6</text>
<line x1="820" y1="759" x2="820" y2="767.5" stroke="#1a1a1a" stroke-width="1.8" />
<text x="818.5" y="789.6" font-size="19.5" text-anchor="middle" font-family='"Liberation Sans", sans-serif' fill="#1a1a1a" stroke="#1a1a1a" stroke-width="0.35">0.5</text>
<line x1="875" y1="759" x2="875" y2="767.5" stroke="#1a1a1a" stroke-width="1.8" />
<text x="873.5" y="789.6" font-size="19.5" text-anchor="middle" font-family='"Liberation Sans", sans-serif' fill="#1a1a1a" stroke="#1a1a1a" stroke-width="0.35">0.4</text>
<line x1="930" y1="759" x2="930" y2="767.5" stroke="#1a1a1a" stroke-width="1.8" />
<text x="928.5" y="789.6" font-size="19.5" text-anchor="middle" font-family='"Liberation Sans", sans-serif' fill="#1a1a1a" stroke="#1a1a1a" stroke-width="0.35">0.3</text>
<line x1="988" y1="759" x2="988" y2="767.5" stroke="#1a1a1a" stroke-width="1.8" />
<text x="986.5" y="789.6" font-size="19.5" text-anchor="middle" font-family='"Liberation Sans", sans-serif' fill="#1a1a1a" stroke="#1a1a1a" stroke-width="0.35">0.2</text>
<line x1="1060.5" y1="759" x2="1060.5" y2="767.5" stroke="#1a1a1a" stroke-width="1.8" />
<text x="1059.0" y="789.6" font-size="19.5" text-anchor="middle" font-family='"Liberation Sans", sans-serif' fill="#1a1a1a" stroke="#1a1a1a" stroke-width="0.35">0.1</text>
<line x1="323.1" y1="824.5" x2="939.9" y2="824.5" stroke="#1a1a1a" stroke-width="2" />
<line x1="324" y1="824.5" x2="324" y2="833.0" stroke="#1a1a1a" stroke-width="1.8" />
<text x="322.5" y="856.1" font-size="19.5" text-anchor="middle" font-family='"Liberation Sans", sans-serif' fill="#1a1a1a" stroke="#1a1a1a" stroke-width="0.35">0.9</text>
<line x1="474" y1="824.5" x2="474" y2="833.0" stroke="#1a1a1a" stroke-width="1.8" />
<text x="472.5" y="856.1" font-size="19.5" text-anchor="middle" font-family='"Liberation Sans", sans-serif' fill="#1a1a1a" stroke="#1a1a1a" stroke-width="0.35">0.8</text>
<line x1="567" y1="824.5" x2="567" y2="833.0" stroke="#1a1a1a" stroke-width="1.8" />
<text x="565.5" y="856.1" font-size="19.5" text-anchor="middle" font-family='"Liberation Sans", sans-serif' fill="#1a1a1a" stroke="#1a1a1a" stroke-width="0.35">0.7</text>
<line x1="640" y1="824.5" x2="640" y2="833.0" stroke="#1a1a1a" stroke-width="1.8" />
<text x="638.5" y="856.1" font-size="19.5" text-anchor="middle" font-family='"Liberation Sans", sans-serif' fill="#1a1a1a" stroke="#1a1a1a" stroke-width="0.35">0.6</text>
<line x1="700" y1="824.5" x2="700" y2="833.0" stroke="#1a1a1a" stroke-width="1.8" />
<text x="698.5" y="856.1" font-size="19.5" text-anchor="middle" font-family='"Liberation Sans", sans-serif' fill="#1a1a1a" stroke="#1a1a1a" stroke-width="0.35">0.5</text>
<line x1="755" y1="824.5" x2="755" y2="833.0" stroke="#1a1a1a" stroke-width="1.8" />
<text x="753.5" y="856.1" font-size="19.5" text-anchor="middle" font-family='"Liberation Sans", sans-serif' fill="#1a1a1a" stroke="#1a1a1a" stroke-width="0.35">0.4</text>
<line x1="810" y1="824.5" x2="810" y2="833.0" stroke="#1a1a1a" stroke-width="1.8" />
<text x="808.5" y="856.1" font-size="19.5" text-anchor="middle" font-family='"Liberation Sans", sans-serif' fill="#1a1a1a" stroke="#1a1a1a" stroke-width="0.35">0.3</text>
<line x1="868" y1="824.5" x2="868" y2="833.0" stroke="#1a1a1a" stroke-width="1.8" />
<text x="866.5" y="856.1" font-size="19.5" text-anchor="middle" font-family='"Liberation Sans", sans-serif' fill="#1a1a1a" stroke="#1a1a1a" stroke-width="0.35">0.2</text>
<line x1="939" y1="824.5" x2="939" y2="833.0" stroke="#1a1a1a" stroke-width="1.8" />
<text x="937.5" y="856.1" font-size="19.5" text-anchor="middle" font-family='"Liberation Sans", sans-serif' fill="#1a1a1a" stroke="#1a1a1a" stroke-width="0.35">0.1</text>
<line x1="292.1" y1="888.5" x2="760.9" y2="888.5" stroke="#1a1a1a" stroke-width="2" />
<line x1="293" y1="888.5" x2="293" y2="897.0" stroke="#1a1a1a" stroke-width="1.8" />
<text x="291.5" y="920.1" font-size="19.5" text-anchor="middle" font-family='"Liberation Sans", sans-serif' fill="#1a1a1a" stroke="#1a1a1a" stroke-width="0.35">0.8</text>
<line x1="388" y1="888.5" x2="388" y2="897.0" stroke="#1a1a1a" stroke-width="1.8" />
<text x="386.5" y="920.1" font-size="19.5" text-anchor="middle" font-family='"Liberation Sans", sans-serif' fill="#1a1a1a" stroke="#1a1a1a" stroke-width="0.35">0.7</text>
<line x1="460" y1="888.5" x2="460" y2="897.0" stroke="#1a1a1a" stroke-width="1.8" />
<text x="458.5" y="920.1" font-size="19.5" text-anchor="middle" font-family='"Liberation Sans", sans-serif' fill="#1a1a1a" stroke="#1a1a1a" stroke-width="0.35">0.6</text>
<line x1="520" y1="888.5" x2="520" y2="897.0" stroke="#1a1a1a" stroke-width="1.8" />
<text x="518.5" y="920.1" font-size="19.5" text-anchor="middle" font-family='"Liberation Sans", sans-serif' fill="#1a1a1a" stroke="#1a1a1a" stroke-width="0.35">0.5</text>
<line x1="575" y1="888.5" x2="575" y2="897.0" stroke="#1a1a1a" stroke-width="1.8" />
<text x="573.5" y="920.1" font-size="19.5" text-anchor="middle" font-family='"Liberation Sans", sans-serif' fill="#1a1a1a" stroke="#1a1a1a" stroke-width="0.35">0.4</text>
<line x1="630" y1="888.5" x2="630" y2="897.0" stroke="#1a1a1a" stroke-width="1.8" />
<text x="628.5" y="920.1" font-size="19.5" text-anchor="middle" font-family='"Liberation Sans", sans-serif' fill="#1a1a1a" stroke="#1a1a1a" stroke-width="0.35">0.3</text>
<line x1="687" y1="888.5" x2="687" y2="897.0" stroke="#1a1a1a" stroke-width="1.8" />
<text x="685.5" y="920.1" font-size="19.5" text-anchor="middle" font-family='"Liberation Sans", sans-serif' fill="#1a1a1a" stroke="#1a1a1a" stroke-width="0.35">0.2</text>
<line x1="760" y1="888.5" x2="760" y2="897.0" stroke="#1a1a1a" stroke-width="1.8" />
<text x="758.5" y="920.1" font-size="19.5" text-anchor="middle" font-family='"Liberation Sans", sans-serif' fill="#1a1a1a" stroke="#1a1a1a" stroke-width="0.35">0.1</text>
<text x="34" y="640.7" font-size="21.4" text-anchor="start" font-family='"Liberation Sans", sans-serif' fill="#242424"  stroke="#242424" stroke-width="0.12">Total Points</text>
<text x="34" y="704" font-size="21.4" text-anchor="start" font-family='"Liberation Sans", sans-serif' fill="#242424"  stroke="#242424" stroke-width="0.12">Linear Predictor</text>
<text x="34" y="767.7" font-size="21.4" text-anchor="start" font-family='"Liberation Sans", sans-serif' fill="#242424"  stroke="#242424" stroke-width="0.12">3-Year OS probability</text>
<text x="34" y="832.5" font-size="21.4" text-anchor="start" font-family='"Liberation Sans", sans-serif' fill="#242424"  stroke="#242424" stroke-width="0.12">5-Year OS probability</text>
<text x="34" y="897" font-size="21.4" text-anchor="start" font-family='"Liberation Sans", sans-serif' fill="#242424"  stroke="#242424" stroke-width="0.12">10-year OS probability</text>
<text x="350" y="970" font-size="27" text-anchor="middle" font-family='"Liberation Sans", sans-serif' fill="#111"  stroke="#111" stroke-width="0.12">Low risk</text>
<text x="619" y="970" font-size="27" text-anchor="middle" font-family='"Liberation Sans", sans-serif' fill="#111"  stroke="#111" stroke-width="0.12">Moderate risk</text>
<text x="1025" y="970" font-size="27" text-anchor="middle" font-family='"Liberation Sans", sans-serif' fill="#111"  stroke="#111" stroke-width="0.12">High risk</text>
<text x="12" y="29" font-size="32" text-anchor="start" font-family='"Liberation Serif", serif' fill="#111" >A</text>
<text x="12" y="1120.5" font-size="31" text-anchor="start" font-family='"Liberation Serif", serif' fill="#111" >B</text>
<text x="639.5" y="1117" font-size="22" text-anchor="middle" font-family='"Liberation Sans", sans-serif' fill="#222"  stroke="#222" stroke-width="0.12">Age</text>
<text x="73" y="1157.5" font-size="27.5" text-anchor="start" font-family='"Liberation Sans", sans-serif' fill="#111"  stroke="#111" stroke-width="0.12">Distribution</text>
<rect x="128.6" y="1395.0" width="731.3333333333334" height="198.5" fill="#80dfe1"/>
<rect x="859.9333333333334" y="1195.0" width="36.56666666666667" height="398.5" fill="#80dfe1"/>
<rect x="896.5000000000001" y="1395.0" width="329.1" height="198.5" fill="#fbbab6"/>
<line x1="128.6" y1="1395.0" x2="128.6" y2="1593.5" stroke="#1c1c1c" stroke-width="1.5" />
<line x1="165.16666666666666" y1="1395.0" x2="165.16666666666666" y2="1593.5" stroke="#1c1c1c" stroke-width="1.5" />
<line x1="201.73333333333335" y1="1395.0" x2="201.73333333333335" y2="1593.5" stroke="#1c1c1c" stroke-width="1.5" />
<line x1="238.3" y1="1395.0" x2="238.3" y2="1593.5" stroke="#1c1c1c" stroke-width="1.5" />
<line x1="274.8666666666667" y1="1395.0" x2="274.8666666666667" y2="1593.5" stroke="#1c1c1c" stroke-width="1.5" />
<line x1="311.43333333333334" y1="1395.0" x2="311.43333333333334" y2="1593.5" stroke="#1c1c1c" stroke-width="2.3" />
<line x1="348.0" y1="1395.0" x2="348.0" y2="1593.5" stroke="#1c1c1c" stroke-width="1.5" />
<line x1="384.5666666666667" y1="1395.0" x2="384.5666666666667" y2="1593.5" stroke="#1c1c1c" stroke-width="2.3" />
<line x1="421.1333333333333" y1="1395.0" x2="421.1333333333333" y2="1593.5" stroke="#1c1c1c" stroke-width="1.5" />
<line x1="457.70000000000005" y1="1395.0" x2="457.70000000000005" y2="1593.5" stroke="#1c1c1c" stroke-width="1.5" />
<line x1="494.26666666666665" y1="1395.0" x2="494.26666666666665" y2="1593.5" stroke="#1c1c1c" stroke-width="1.5" />
<line x1="530.8333333333334" y1="1395.0" x2="530.8333333333334" y2="1593.5" stroke="#1c1c1c" stroke-width="1.5" />
<line x1="567.4000000000001" y1="1395.0" x2="567.4000000000001" y2="1593.5" stroke="#1c1c1c" stroke-width="1.5" />
<line x1="603.9666666666667" y1="1395.0" x2="603.9666666666667" y2="1593.5" stroke="#1c1c1c" stroke-width="1.5" />
<line x1="640.5333333333334" y1="1395.0" x2="640.5333333333334" y2="1593.5" stroke="#1c1c1c" stroke-width="1.5" />
<line x1="677.1" y1="1395.0" x2="677.1" y2="1593.5" stroke="#1c1c1c" stroke-width="1.5" />
<line x1="713.6666666666667" y1="1395.0" x2="713.6666666666667" y2="1593.5" stroke="#1c1c1c" stroke-width="2.3" />
<line x1="750.2333333333335" y1="1395.0" x2="750.2333333333335" y2="1593.5" stroke="#1c1c1c" stroke-width="1.5" />
<line x1="786.8000000000001" y1="1395.0" x2="786.8000000000001" y2="1593.5" stroke="#1c1c1c" stroke-width="2.3" />
<line x1="823.3666666666668" y1="1395.0" x2="823.3666666666668" y2="1593.5" stroke="#1c1c1c" stroke-width="1.5" />
<line x1="859.9333333333334" y1="1195.0" x2="859.9333333333334" y2="1593.5" stroke="#1c1c1c" stroke-width="1.5" />
<line x1="896.5000000000001" y1="1195.0" x2="896.5000000000001" y2="1593.5" stroke="#1c1c1c" stroke-width="1.5" />
<line x1="933.0666666666667" y1="1395.0" x2="933.0666666666667" y2="1593.5" stroke="#1c1c1c" stroke-width="1.5" />
<line x1="969.6333333333334" y1="1395.0" x2="969.6333333333334" y2="1593.5" stroke="#1c1c1c" stroke-width="2.3" />
<line x1="1006.2000000000002" y1="1395.0" x2="1006.2000000000002" y2="1593.5" stroke="#1c1c1c" stroke-width="1.5" />
<line x1="1042.7666666666667" y1="1395.0" x2="1042.7666666666667" y2="1593.5" stroke="#1c1c1c" stroke-width="2.3" />
<line x1="1079.3333333333335" y1="1395.0" x2="1079.3333333333335" y2="1593.5" stroke="#1c1c1c" stroke-width="1.5" />
<line x1="1115.9" y1="1395.0" x2="1115.9" y2="1593.5" stroke="#1c1c1c" stroke-width="2.3" />
<line x1="1152.4666666666667" y1="1395.0" x2="1152.4666666666667" y2="1593.5" stroke="#1c1c1c" stroke-width="1.5" />
<line x1="1189.0333333333333" y1="1395.0" x2="1189.0333333333333" y2="1593.5" stroke="#1c1c1c" stroke-width="1.5" />
<line x1="1225.6" y1="1395.0" x2="1225.6" y2="1593.5" stroke="#1c1c1c" stroke-width="1.5" />
<line x1="127.89999999999999" y1="1395.0" x2="859.9333333333334" y2="1395.0" stroke="#1c1c1c" stroke-width="1.7" />
<line x1="859.2333333333333" y1="1195.0" x2="897.2000000000002" y2="1195.0" stroke="#1c1c1c" stroke-width="1.7" />
<line x1="896.5000000000001" y1="1395.0" x2="1226.3" y2="1395.0" stroke="#1c1c1c" stroke-width="1.7" />
<line x1="127.89999999999999" y1="1593.5" x2="154" y2="1593.5" stroke="#111" stroke-width="2.4" />
<line x1="154" y1="1593.5" x2="776" y2="1593.5" stroke="#f8766d" stroke-width="2.2" />
<line x1="776" y1="1593.5" x2="1186" y2="1593.5" stroke="#111" stroke-width="2.6" />
<line x1="1186" y1="1593.5" x2="1213" y2="1593.5" stroke="#00c8cc" stroke-width="2.4" />
<line x1="1213" y1="1593.5" x2="1226.3" y2="1593.5" stroke="#111" stroke-width="2.4" />
<line x1="400" y1="1395.0" x2="647" y2="1395.0" stroke="#19bcc2" stroke-width="1.9" />
<line x1="1046" y1="1395.0" x2="1098" y2="1395.0" stroke="#f58b84" stroke-width="1.9" />
<path d="M775.0,1593.0 C779.2,1592.6 791.9,1592.0 800.0,1590.5 C808.1,1589.0 816.1,1587.0 823.4,1584.2 C830.7,1581.4 838.0,1577.7 843.9,1573.8 C849.8,1569.9 852.9,1566.4 858.8,1560.8 C864.7,1555.2 873.1,1547.4 879.3,1540.3 C885.5,1533.2 890.1,1526.0 896.0,1517.9 C901.9,1509.8 908.8,1500.2 914.7,1491.8 C920.6,1483.4 925.6,1475.7 931.5,1467.6 C937.4,1459.5 943.9,1450.6 950.0,1443.4 C956.1,1436.2 961.8,1430.0 968.0,1424.7 C974.2,1419.4 981.1,1415.4 987.4,1411.7 C993.7,1408.0 1000.1,1404.8 1006.0,1402.4 C1011.9,1400.0 1016.8,1398.6 1022.8,1397.5 C1028.8,1396.4 1034.1,1396.1 1042.0,1395.7 C1049.9,1395.3 1060.5,1395.2 1070.0,1395.2 C1079.5,1395.2 1091.7,1395.4 1099.0,1395.7 C1106.3,1396.0 1108.4,1395.8 1114.0,1396.8 C1119.6,1397.8 1126.5,1399.5 1132.7,1401.6 C1138.9,1403.6 1145.2,1405.9 1151.4,1409.1 C1157.6,1412.3 1164.1,1416.5 1170.0,1421.0 C1175.9,1425.5 1181.5,1430.6 1186.8,1435.9 C1192.1,1441.2 1197.3,1447.4 1201.7,1452.7 C1206.1,1458.0 1211.0,1465.1 1212.9,1467.6" fill="none" stroke="#f0807a" stroke-width="1.1" stroke-opacity="0.9"/>
<path d="M154.0,1480.0 C155.8,1478.6 157.1,1476.9 165.0,1471.5 C172.9,1466.1 189.2,1454.6 201.5,1447.5 C213.8,1440.4 226.8,1434.6 239.0,1429.0 C251.2,1423.4 263.0,1418.2 275.0,1414.0 C287.0,1409.8 298.8,1406.2 311.0,1403.5 C323.2,1400.8 336.2,1399.3 348.5,1398.0 C360.8,1396.7 372.6,1396.0 384.5,1395.5 C396.4,1395.0 400.8,1395.1 420.0,1395.0 C439.2,1394.9 470.0,1395.0 500.0,1395.0 C530.0,1395.0 575.0,1395.0 600.0,1395.0 C625.0,1395.0 636.8,1394.9 650.0,1395.2 C663.2,1395.5 668.6,1395.5 679.0,1396.6 C689.4,1397.7 701.0,1399.6 712.6,1401.6 C724.2,1403.6 736.5,1405.8 748.8,1408.8 C761.1,1411.8 773.8,1415.2 786.2,1419.6 C798.6,1423.9 811.2,1428.8 823.2,1434.9 C835.2,1441.1 846.4,1448.9 858.5,1456.5 C870.6,1464.1 883.6,1472.1 895.8,1480.5 C908.0,1488.9 919.5,1498.3 931.5,1506.7 C943.5,1515.1 955.6,1523.5 968.0,1531.0 C980.4,1538.5 993.7,1545.1 1006.0,1551.5 C1018.3,1557.9 1029.8,1564.5 1042.0,1569.3 C1054.2,1574.1 1067.4,1577.5 1079.4,1580.5 C1091.4,1583.5 1102.0,1585.8 1114.0,1587.6 C1126.0,1589.4 1139.6,1590.4 1151.4,1591.3 C1163.2,1592.2 1174.7,1592.5 1185.0,1592.8 C1195.3,1593.1 1208.3,1593.1 1213.0,1593.2" fill="none" stroke="#0fb7be" stroke-width="1.5" stroke-opacity="1"/>
<line x1="74" y1="1174.4" x2="74" y2="1614" stroke="#3a3a3a" stroke-width="1.6" />
<line x1="73.2" y1="1613.2" x2="1278" y2="1613.2" stroke="#3a3a3a" stroke-width="1.6" />
<line x1="68.5" y1="1194.9" x2="74" y2="1194.9" stroke="#3a3a3a" stroke-width="1.6" />
<text x="61.8" y="1203.5" font-size="17.6" text-anchor="end" font-family='"Liberation Sans", sans-serif' fill="#4d4d4d"  stroke="#4d4d4d" stroke-width="0.12">2.0</text>
<line x1="68.5" y1="1294.5" x2="74" y2="1294.5" stroke="#3a3a3a" stroke-width="1.6" />
<text x="61.8" y="1303.1" font-size="17.6" text-anchor="end" font-family='"Liberation Sans", sans-serif' fill="#4d4d4d"  stroke="#4d4d4d" stroke-width="0.12">1.5</text>
<line x1="68.5" y1="1394.4" x2="74" y2="1394.4" stroke="#3a3a3a" stroke-width="1.6" />
<text x="61.8" y="1403.0" font-size="17.6" text-anchor="end" font-family='"Liberation Sans", sans-serif' fill="#4d4d4d"  stroke="#4d4d4d" stroke-width="0.12">1.0</text>
<line x1="68.5" y1="1493.7" x2="74" y2="1493.7" stroke="#3a3a3a" stroke-width="1.6" />
<text x="61.8" y="1502.3" font-size="17.6" text-anchor="end" font-family='"Liberation Sans", sans-serif' fill="#4d4d4d"  stroke="#4d4d4d" stroke-width="0.12">0.5</text>
<line x1="68.5" y1="1593.5" x2="74" y2="1593.5" stroke="#3a3a3a" stroke-width="1.6" />
<text x="61.8" y="1602.1" font-size="17.6" text-anchor="end" font-family='"Liberation Sans", sans-serif' fill="#4d4d4d"  stroke="#4d4d4d" stroke-width="0.12">0.0</text>
<line x1="366" y1="1613.2" x2="366" y2="1618.6" stroke="#3a3a3a" stroke-width="1.6" />
<text x="366" y="1641" font-size="17.6" text-anchor="middle" font-family='"Liberation Sans", sans-serif' fill="#4d4d4d"  stroke="#4d4d4d" stroke-width="0.12">60</text>
<line x1="718.5" y1="1613.2" x2="718.5" y2="1618.6" stroke="#3a3a3a" stroke-width="1.6" />
<text x="718.5" y="1641" font-size="17.6" text-anchor="middle" font-family='"Liberation Sans", sans-serif' fill="#4d4d4d"  stroke="#4d4d4d" stroke-width="0.12">70</text>
<line x1="1072" y1="1613.2" x2="1072" y2="1618.6" stroke="#3a3a3a" stroke-width="1.6" />
<text x="1072" y="1641" font-size="17.6" text-anchor="middle" font-family='"Liberation Sans", sans-serif' fill="#4d4d4d"  stroke="#4d4d4d" stroke-width="0.12">80</text>
<text transform="translate(28.3,1394) rotate(-90)" font-size="24" textLength="72.5" lengthAdjust="spacingAndGlyphs" text-anchor="middle" font-family='"Liberation Sans", sans-serif' fill="#222">Density</text>
<text x="73" y="1688" font-size="27.5" text-anchor="start" font-family='"Liberation Sans", sans-serif' fill="#111"  stroke="#111" stroke-width="0.12">Maximally Selected Rank Statistics</text>
<line x1="74" y1="1703" x2="74" y2="2116" stroke="#3a3a3a" stroke-width="1.6" />
<line x1="73.2" y1="2115" x2="1151" y2="2115" stroke="#111" stroke-width="2.6" />
<line x1="68.5" y1="1764" x2="74" y2="1764" stroke="#3a3a3a" stroke-width="1.8" />
<text x="61.8" y="1771.8" font-size="17.6" text-anchor="end" font-family='"Liberation Sans", sans-serif' fill="#4d4d4d"  stroke="#4d4d4d" stroke-width="0.12">15</text>
<line x1="68.5" y1="1875" x2="74" y2="1875" stroke="#3a3a3a" stroke-width="1.8" />
<text x="61.8" y="1882.8" font-size="17.6" text-anchor="end" font-family='"Liberation Sans", sans-serif' fill="#4d4d4d"  stroke="#4d4d4d" stroke-width="0.12">10</text>
<line x1="68.5" y1="1985" x2="74" y2="1985" stroke="#3a3a3a" stroke-width="1.8" />
<text x="61.8" y="1992.8" font-size="17.6" text-anchor="end" font-family='"Liberation Sans", sans-serif' fill="#4d4d4d"  stroke="#4d4d4d" stroke-width="0.12">5</text>
<line x1="68.5" y1="2096" x2="74" y2="2096" stroke="#3a3a3a" stroke-width="1.8" />
<text x="61.8" y="2103.8" font-size="17.6" text-anchor="end" font-family='"Liberation Sans", sans-serif' fill="#4d4d4d"  stroke="#4d4d4d" stroke-width="0.12">0</text>
<line x1="317.5" y1="2115" x2="317.5" y2="2120.5" stroke="#3a3a3a" stroke-width="1.6" />
<text x="317.5" y="2142" font-size="17.6" text-anchor="middle" font-family='"Liberation Sans", sans-serif' fill="#4d4d4d"  stroke="#4d4d4d" stroke-width="0.12">60</text>
<line x1="644.5" y1="2115" x2="644.5" y2="2120.5" stroke="#3a3a3a" stroke-width="1.6" />
<text x="644.5" y="2142" font-size="17.6" text-anchor="middle" font-family='"Liberation Sans", sans-serif' fill="#4d4d4d"  stroke="#4d4d4d" stroke-width="0.12">70</text>
<line x1="971" y1="2115" x2="971" y2="2120.5" stroke="#3a3a3a" stroke-width="1.6" />
<text x="971" y="2142" font-size="17.6" text-anchor="middle" font-family='"Liberation Sans", sans-serif' fill="#4d4d4d"  stroke="#4d4d4d" stroke-width="0.12">80</text>
<text x="610" y="2168" font-size="22" text-anchor="middle" font-family='"Liberation Sans", sans-serif' fill="#222"  stroke="#222" stroke-width="0.12">Age</text>
<text transform="translate(28.3,1908) rotate(-90)" font-size="24" textLength="321" lengthAdjust="spacingAndGlyphs" text-anchor="middle" font-family='"Liberation Sans", sans-serif' fill="#222">Standardized Log-Rank Statistic</text>
<circle cx="122.5" cy="1901.5" r="1.25" fill="#2bbcc8"/>
<circle cx="154.5" cy="1881.5" r="1.25" fill="#2bbcc8"/>
<circle cx="187" cy="1849.5" r="1.25" fill="#2bbcc8"/>
<circle cx="219.5" cy="1846" r="1.25" fill="#2bbcc8"/>
<circle cx="252.5" cy="1832.5" r="1.25" fill="#2bbcc8"/>
<circle cx="285.5" cy="1823.5" r="1.25" fill="#2bbcc8"/>
<circle cx="317.5" cy="1815.5" r="1.25" fill="#2bbcc8"/>
<circle cx="349.5" cy="1811" r="1.25" fill="#2bbcc8"/>
<circle cx="382" cy="1798.5" r="1.25" fill="#2bbcc8"/>
<circle cx="416" cy="1800" r="1.25" fill="#2bbcc8"/>
<circle cx="448.5" cy="1788" r="1.25" fill="#2bbcc8"/>
<circle cx="480.5" cy="1790.5" r="1.25" fill="#2bbcc8"/>
<circle cx="513.5" cy="1770.5" r="1.25" fill="#2bbcc8"/>
<circle cx="546" cy="1769.5" r="1.25" fill="#2bbcc8"/>
<circle cx="579" cy="1758.5" r="1.25" fill="#2bbcc8"/>
<circle cx="612" cy="1753.5" r="1.25" fill="#2bbcc8"/>
<circle cx="643" cy="1746" r="1.25" fill="#2bbcc8"/>
<circle cx="676.5" cy="1743" r="1.25" fill="#2bbcc8"/>
<circle cx="708.5" cy="1733.5" r="1.25" fill="#2bbcc8"/>
<circle cx="742" cy="1738.5" r="1.25" fill="#2bbcc8"/>
<circle cx="774" cy="1729" r="1.25" fill="#2bbcc8"/>
<circle cx="807" cy="1722" r="1.25" fill="#2bbcc8"/>
<circle cx="839.5" cy="1725" r="1.2" fill="#f3776f"/>
<circle cx="871.5" cy="1732" r="1.2" fill="#f3776f"/>
<circle cx="906" cy="1735.5" r="1.2" fill="#f3776f"/>
<circle cx="938.5" cy="1745.5" r="1.2" fill="#f3776f"/>
<circle cx="970.5" cy="1747.5" r="1.2" fill="#f3776f"/>
<circle cx="1003" cy="1772" r="1.2" fill="#f3776f"/>
<circle cx="1035" cy="1794" r="1.2" fill="#f3776f"/>
<circle cx="1068.5" cy="1806" r="1.2" fill="#f3776f"/>
<circle cx="1101" cy="1822" r="1.2" fill="#f3776f"/>
<line x1="807.7" y1="1722" x2="807.7" y2="2082" stroke="#111" stroke-width="2.5" stroke-dasharray="5.5,6"/>
<text x="807" y="2096" font-size="22.2" text-anchor="middle" font-family='"Liberation Sans", sans-serif' fill="#111"  stroke="#111" stroke-width="0.12">Cutpoint: 75</text>
<text x="1184" y="1878.5" font-size="23" text-anchor="start" font-family='"Liberation Sans", sans-serif' fill="#2a2a2a"  stroke="#2a2a2a" stroke-width="0.12">grps</text>
<text x="1230" y="1917" font-size="20" text-anchor="start" font-family='"Liberation Sans", sans-serif' fill="#111"  stroke="#111" stroke-width="0.12">high</text>
<text x="1230" y="1952" font-size="20" text-anchor="start" font-family='"Liberation Sans", sans-serif' fill="#111"  stroke="#111" stroke-width="0.12">low</text>
<circle cx="1202" cy="1908" r="1.4" fill="#f3776f"/>
<circle cx="1202" cy="1944" r="1.7" fill="#2bbcc8"/>
</g>
</svg>
</body></html>
